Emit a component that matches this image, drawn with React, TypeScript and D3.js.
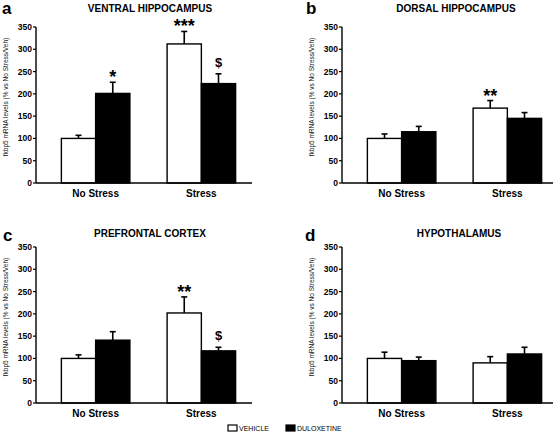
import React from "react";
import * as d3 from "d3";

const categories = ["No Stress", "Stress"];
const groups = ["VEHICLE", "DULOXETINE"];
const yTicks = [0, 50, 100, 150, 200, 250, 300, 350];

const panelLetters = ["a", "b", "c", "d"];
const panelTitles = ["VENTRAL HIPPOCAMPUS", "DORSAL HIPPOCAMPUS", "PREFRONTAL CORTEX", "HYPOTHALAMUS"];

// values: [NoStress-Veh, NoStress-Dul, Stress-Veh, Stress-Dul]
const ventralMeans = [100, 201, 312, 223];
const ventralErr = [7, 25, 28, 22];
const dorsalMeans = [100, 115, 168, 145];
const dorsalErr = [10, 12, 17, 13];
const prefrontalMeans = [100, 141, 202, 117];
const prefrontalErr = [8, 19, 36, 8];
const hypothalamusMeans = [100, 95, 90, 110];
const hypothalamusErr = [14, 8, 14, 15];

// significance marks per bar
const ventralMarks = ["", "*", "***", "$"];
const dorsalMarks = ["", "", "**", ""];
const prefrontalMarks = ["", "", "**", "$"];
const hypothalamusMarks = ["", "", "", ""];

const panelMeans = [ventralMeans, dorsalMeans, prefrontalMeans, hypothalamusMeans];
const panelErrs = [ventralErr, dorsalErr, prefrontalErr, hypothalamusErr];
const panelMarks = [ventralMarks, dorsalMarks, prefrontalMarks, hypothalamusMarks];

const yLabel = "fkbp5 mRNA levels (% vs No Stress/Veh)";
const FONT = "'Liberation Sans', Arial, Helvetica, sans-serif";

const layouts = [
  { ax: 36, top: 27, bottom: 183, axEnd: 252, titleX: 150, titleY: 12, letterX: 2, letterY: 14 },
  { ax: 342, top: 27, bottom: 183, axEnd: 553, titleX: 456, titleY: 12, letterX: 306, letterY: 14 },
  { ax: 36, top: 247, bottom: 403, axEnd: 252, titleX: 150, titleY: 237, letterX: 3, letterY: 241 },
  { ax: 342, top: 247, bottom: 403, axEnd: 553, titleX: 459, titleY: 237, letterX: 305, letterY: 241 },
];

function Panel({ idx }: { idx: number }) {
  const L = layouts[idx];
  const means = panelMeans[idx];
  const errs = panelErrs[idx];
  const marks = panelMarks[idx];
  const y = d3.scaleLinear().domain([0, 350]).range([L.bottom, L.top]);
  const x0 = d3
    .scaleBand<string>()
    .domain(categories)
    .range([L.ax, L.ax + 225])
    .paddingInner(0.352)
    .paddingOuter(0.24);
  const x1 = d3.scaleBand<string>().domain(groups).range([0, x0.bandwidth()]);
  const bars: any[] = [];
  categories.forEach((c, ci) => {
    groups.forEach((g, gi) => {
      const i = ci * 2 + gi;
      bars.push({ c, g, gi, v: means[i], e: errs[i], m: marks[i] });
    });
  });
  const yMid = (L.top + L.bottom) / 2 - 8;
  return (
    <g fontFamily={FONT}>
      <text x={L.letterX} y={L.letterY} fontSize={17} fontWeight="bold">
        {panelLetters[idx]}
      </text>
      <text x={L.titleX} y={L.titleY} fontSize={10} fontWeight="bold" textAnchor="middle">
        {panelTitles[idx]}
      </text>
      <text
        transform={`translate(${L.ax - 28},${yMid}) rotate(-90)`}
        fontSize={6.5}
        textAnchor="middle"
        fill="#111"
      >
        {yLabel}
      </text>
      {yTicks.map((t) => (
        <g key={t}>
          <line x1={L.ax - 3} x2={L.ax} y1={y(t)} y2={y(t)} stroke="#000" strokeWidth={1.2} />
          <text x={L.ax - 4} y={y(t) + 3} fontSize={8.5} fontWeight="bold" textAnchor="end">
            {t}
          </text>
        </g>
      ))}
      {bars.map((b, i) => {
        const bx = (x0(b.c) as number) + (x1(b.g) as number);
        const bw = x1.bandwidth();
        const cx = bx + bw / 2;
        const top = y(b.v + b.e);
        return (
          <g key={i}>
            <line x1={cx} x2={cx} y1={y(b.v)} y2={top} stroke="#000" strokeWidth={1.6} />
            <line x1={cx - 3} x2={cx + 3} y1={top} y2={top} stroke="#000" strokeWidth={1.6} />
            <rect
              x={bx}
              y={y(b.v)}
              width={bw}
              height={y(0) - y(b.v)}
              fill={b.gi === 0 ? "#fff" : "#000"}
              stroke="#000"
              strokeWidth={1.4}
            />
            {b.m && (
              <text
                x={cx}
                y={b.m === "$" ? top - 7 : top + 1}
                fontSize={b.m === "$" ? 13 : 18}
                fontWeight="bold"
                textAnchor="middle"
              >
                {b.m}
              </text>
            )}
          </g>
        );
      })}
      <line x1={L.ax} x2={L.ax} y1={L.top} y2={L.bottom} stroke="#000" strokeWidth={1.4} />
      <line x1={L.ax} x2={L.axEnd} y1={L.bottom} y2={L.bottom} stroke="#000" strokeWidth={1.4} />
      {categories.map((c) => (
        <text
          key={c}
          x={(x0(c) as number) + x0.bandwidth() / 2}
          y={L.bottom + 14}
          fontSize={10}
          fontWeight="bold"
          textAnchor="middle"
        >
          {c}
        </text>
      ))}
    </g>
  );
}

export default function App() {
  const legendX = [228, 286];
  return (
    <svg
      width={554}
      height={433}
      style={{ position: "absolute", left: 0, top: 0, background: "#fff" }}
    >
      <rect width={554} height={433} fill="#fff" />
      {[0, 1, 2, 3].map((i) => (
        <Panel key={i} idx={i} />
      ))}
      {groups.map((g, i) => (
        <g key={g} fontFamily={FONT}>
          <rect
            x={legendX[i]}
            y={425}
            width={9}
            height={6}
            fill={i === 0 ? "#fff" : "#000"}
            stroke="#000"
            strokeWidth={1.2}
          />
          <text x={legendX[i] + 11} y={431} fontSize={7}>
            {g}
          </text>
        </g>
      ))}
    </svg>
  );
}
